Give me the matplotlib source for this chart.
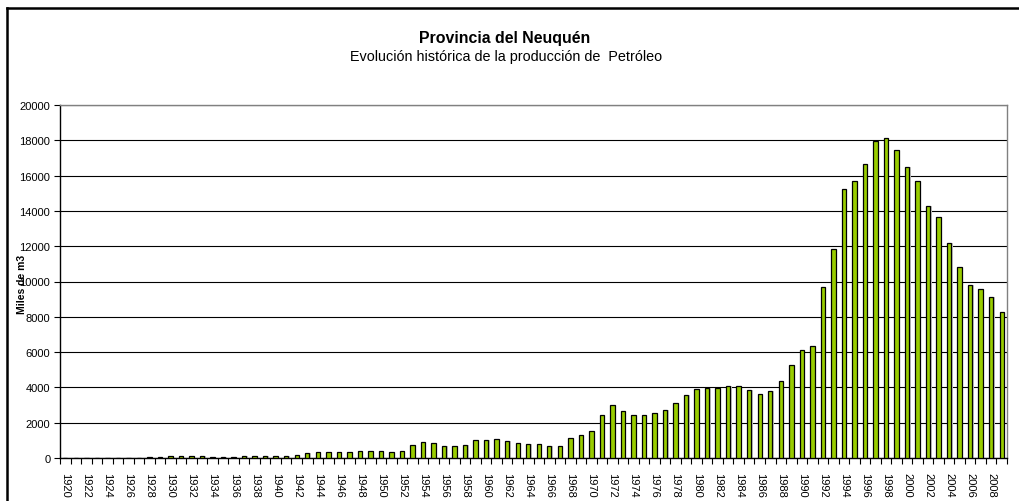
import numpy as np
import matplotlib
matplotlib.use("Agg")
import matplotlib.pyplot as plt
from matplotlib.lines import Line2D

plt.rcParams["font.family"] = ["Liberation Sans", "DejaVu Sans"]

# ── data (miles de m3 por año) ───────────────────────────────
years = list(range(1920, 2010))
produccion = [
    5, 8, 15, 20, 20, 22, 25, 28, 40, 55,                       # 1920-1929
    90, 110, 130, 115, 80, 60, 75, 95, 95, 130,                 # 1930-1939
    115, 115, 170, 300, 340, 355, 340, 355, 395, 395,           # 1940-1949
    380, 330, 415, 737, 895, 840, 700, 680, 756, 1020,          # 1950-1959
    1020, 1077, 963, 831, 812, 793, 680, 699, 1152, 1285,       # 1960-1969
    1530, 2445, 2995, 2682, 2437, 2418, 2550, 2739, 3098, 3570, # 1970-1979
    3891, 3975, 3975, 4078, 4078, 3852, 3643, 3776, 4380, 5268, # 1980-1989
    6133, 6321, 9680, 11830, 15247, 15700, 16680, 17964, 18134, 17474,  # 1990-1999
    16474, 15681, 14285, 13681, 12209, 10794, 9794, 9567, 9095, 8265,   # 2000-2009
]
yticks = list(range(0, 20001, 2000))

W, H = 1019, 502
fig = plt.figure(figsize=(W / 100, H / 100), dpi=100)
ax = fig.add_axes([60 / W, 1 - 459 / H, (1007 - 60) / W, (459 - 106) / H])

x = np.arange(len(years))
# soft shadow behind each bar
ax.bar(x + 0.12, produccion, width=0.42, color="#c8c8c8", zorder=2)
ax.bar(x, produccion, width=0.42, color="#99cc00", edgecolor="black",
       linewidth=0.9, zorder=3)

ax.set_xlim(-0.5, len(years) - 0.5)
ax.set_ylim(0, 20000)
ax.set_yticks(yticks)
ax.set_yticklabels([str(v) for v in yticks], fontsize=8)
ax.yaxis.grid(True, color="black", linewidth=0.8)
ax.set_axisbelow(True)

ax.set_xticks(x[::2])
ax.set_xticklabels([str(y) for y in years[::2]], rotation=270, fontsize=8)
ax.set_xticks(np.arange(-0.5, len(years), 1), minor=True)
ax.tick_params(axis="x", which="major", length=0, pad=10)
ax.tick_params(axis="x", which="minor", length=4, width=0.8, direction="out")
ax.tick_params(axis="y", length=4, width=0.8, direction="out", pad=3)

for side in ["top", "right"]:
    ax.spines[side].set_color("#808080")
    ax.spines[side].set_linewidth(1.0)
for side in ["left", "bottom"]:
    ax.spines[side].set_color("black")
    ax.spines[side].set_linewidth(1.0)

# y label sits over the tick labels, as in the original sheet
fig.text(22 / W, 1 - 284 / H, "Miles de m3", rotation=90, ha="center", va="center",
         fontsize=7.5, fontweight="bold")

fig.text(505 / W, 1 - 38 / H, "Provincia del Neuquén", ha="center", va="center",
         fontsize=11.4, fontweight="bold")
fig.text(506 / W, 1 - 57 / H, "Evolución histórica de la producción de  Petróleo",
         ha="center", va="center", fontsize=10.4)

# outer chart frame
fig.add_artist(Line2D([7 / W, 7 / W], [0, 1 - 9 / H], color="black", linewidth=1.8))
fig.add_artist(Line2D([7 / W, 1], [1 - 9 / H, 1 - 9 / H], color="black", linewidth=1.8))

fig.savefig("out.png", dpi=100)
plt.close()
